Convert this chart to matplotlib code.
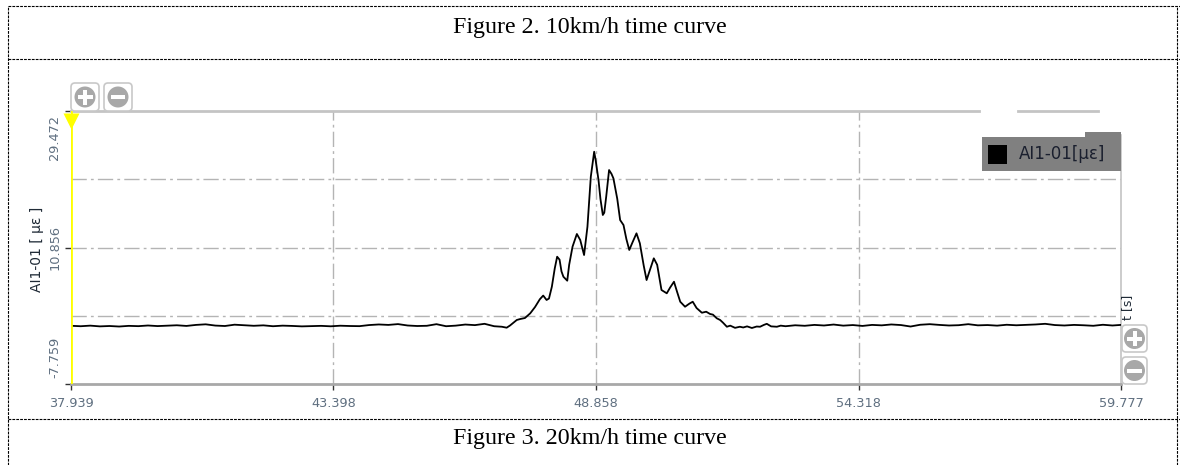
import numpy as np
import matplotlib.pyplot as plt
import matplotlib.transforms as mtransforms
from matplotlib.lines import Line2D
from matplotlib.patches import Rectangle, FancyBboxPatch, Circle

# time [s] and strain [µε]
t_rise = [37.94, 38.14, 38.34, 38.54, 38.74, 38.94, 39.14, 39.34, 39.54, 39.74,
          39.94, 40.14, 40.34, 40.54, 40.74, 40.94, 41.14, 41.34, 41.54, 41.74,
          41.94, 42.14, 42.34, 42.54, 42.74, 42.94, 43.14, 43.34, 43.54, 43.74,
          43.94, 44.14, 44.34, 44.54, 44.74, 44.94, 45.14, 45.34, 45.54, 45.74,
          45.94, 46.14, 46.34, 46.54, 46.74, 46.90, 47.00, 47.07, 47.21, 47.28,
          47.38, 47.49, 47.59, 47.69, 47.76, 47.83, 47.88]
v_rise = [0.18, 0.12, 0.20, 0.10, 0.15, 0.08, 0.17, 0.13, 0.22, 0.14,
          0.19, 0.25, 0.16, 0.30, 0.38, 0.21, 0.15, 0.33, 0.26, 0.18,
          0.24, 0.12, 0.20, 0.16, 0.10, 0.14, 0.17, 0.11, 0.19, 0.15,
          0.13, 0.28, 0.36, 0.30, 0.41, 0.22, 0.15, 0.18, 0.40, 0.12,
          0.20, 0.35, 0.27, 0.45, 0.12, 0.05, -0.08, 0.22, 0.97, 1.10,
          1.24, 1.88, 2.74, 3.80, 4.30, 3.70, 3.90]

t_peak = [47.94, 48.00, 48.05, 48.10, 48.14, 48.18, 48.26, 48.30, 48.37, 48.46,
          48.53, 48.61, 48.65, 48.68, 48.72, 48.75, 48.82, 48.85, 48.91, 48.95,
          49.00, 49.03, 49.07, 49.13, 49.18, 49.22, 49.30, 49.36, 49.43, 49.49,
          49.55, 49.62, 49.70, 49.77, 49.85, 49.91, 49.98, 50.06, 50.13, 50.22,
          50.33, 50.40, 50.48, 50.54, 50.61, 50.71, 50.80, 50.87, 50.95, 51.06,
          51.15, 51.23, 51.29, 51.37, 51.44, 51.50, 51.58]
v_peak = [5.51, 8.00, 9.60, 9.20, 7.60, 6.87, 6.33, 8.50, 10.97, 12.70,
          11.88, 9.83, 12.00, 13.69, 17.50, 20.51, 23.92, 22.80, 20.06, 17.50,
          15.29, 15.60, 17.78, 21.42, 20.90, 20.29, 17.50, 14.60, 13.92, 12.00,
          10.52, 11.60, 12.79, 11.43, 8.40, 6.42, 7.80, 9.38, 8.50, 5.06,
          4.61, 5.40, 6.19, 4.90, 3.46, 2.78, 3.20, 3.46, 2.60, 1.96,
          2.10, 1.79, 1.70, 1.20, 0.97, 0.60, 0.05]

t_tail = [51.65, 51.75, 51.85, 51.92, 52.00, 52.10, 52.20, 52.27, 52.35, 52.41,
          52.50, 52.62, 52.70, 52.80, 53.00, 53.20, 53.40, 53.60, 53.80, 54.00,
          54.20, 54.40, 54.60, 54.80, 55.00, 55.20, 55.40, 55.60, 55.80, 56.00,
          56.20, 56.40, 56.60, 56.80, 57.00, 57.20, 57.40, 57.60, 57.80, 58.00,
          58.20, 58.40, 58.60, 58.80, 59.00, 59.20, 59.40, 59.60, 59.777]
v_tail = [0.20, -0.10, 0.05, -0.05, 0.10, -0.12, 0.08, 0.05, 0.30, 0.45,
          0.10, 0.05, 0.20, 0.12, 0.25, 0.18, 0.30, 0.22, 0.35, 0.20,
          0.28, 0.16, 0.30, 0.24, 0.36, 0.28, 0.08, 0.32, 0.40, 0.30,
          0.22, 0.26, 0.40, 0.24, 0.28, 0.20, 0.32, 0.25, 0.30, 0.36,
          0.45, 0.28, 0.22, 0.30, 0.25, 0.18, 0.32, 0.22, 0.30]

t = np.array(t_rise + t_peak + t_tail)
v = np.array(v_rise + v_peak + v_tail)

x_ticks = [37.939, 43.398, 48.858, 54.318, 59.777]
y_ticks = [-7.759, 10.856, 29.472]
x_min, x_max = 37.939, 59.777
y_min, y_max = -7.759, 29.472

W, H = 1180, 465
fig = plt.figure(figsize=(W / 100, H / 100), dpi=100)
ax = fig.add_axes([71 / W, 1 - 384 / H, 1050 / W, 273 / H])

ax.plot(t, v, color='black', lw=1.3, zorder=3)
ax.set_xlim(x_min, x_max)
ax.set_ylim(y_min, y_max)

# dash-dot grid
grid_style = dict(color='#b4b4b4', lw=1, ls=(0, (11, 3, 2, 3)), zorder=1)
for gx in x_ticks[1:-1]:
    ax.axvline(gx, **grid_style)
for k in (1, 2, 3):
    ax.axhline(y_min + k * (y_max - y_min) / 4, **grid_style)

# yellow cursor
ax.axvline(x_min, color='#ffff00', lw=2, zorder=4)
ax.plot([x_min], [0.965], marker='v', ms=12, mec='none', color='#ffff00',
        transform=ax.get_xaxis_transform(), clip_on=False, zorder=5)

for s in ('top', 'left', 'right'):
    ax.spines[s].set_visible(False)
ax.spines['bottom'].set_color('#a8a8a8')
ax.spines['bottom'].set_linewidth(2)

ax.set_xticks(x_ticks)
ax.set_xticklabels([f'{x:.3f}' for x in x_ticks])
ax.set_yticks(y_ticks)
ax.set_yticklabels([f'{y:.3f}' for y in y_ticks], rotation=90)
ax.tick_params(axis='both', colors='#333333', labelcolor='#5f6f80',
               labelsize=9.3, length=4, width=1)
ax.tick_params(axis='y', pad=3)
ax.tick_params(axis='x', pad=5)
# end labels sit a little inside the axis range
for lbl, va, dy in zip(ax.get_yticklabels(), ['bottom', 'center', 'top'],
                       [6, 0, -4]):
    lbl.set_va(va)
    lbl.set_transform(lbl.get_transform() + mtransforms.ScaledTranslation(
        0, dy / 100, fig.dpi_scale_trans))

fig.text(37 / W, 1 - 249 / H, 'AI1-01 [ µε ]', rotation=90, ha='center',
         va='center', fontsize=10, color='#1f2a36')
fig.text(1128 / W, 1 - 307 / H, 't [s]', rotation=90, ha='center',
         va='center', fontsize=9, color='#1f2a36')

# broken top border and right border
ax.plot([0, 0.8648], [1, 1], color='#c4c4c4', lw=2,
        transform=ax.transAxes, clip_on=False)
ax.plot([0.9019, 0.978], [1, 1], color='#c4c4c4', lw=2,
        transform=ax.transAxes, clip_on=False)
ax.plot([1, 1], [0, 0.912], color='#c4c4c4', lw=1.2,
        transform=ax.transAxes, clip_on=False)

tr = fig.dpi_scale_trans


def px(x, y):
    return x / 100, (H - y) / 100


# legend box
fig.patches.append(Rectangle(px(982, 171), 1.39, 0.34, transform=tr,
                             fc='#808080', ec='none'))
fig.patches.append(Rectangle(px(1085, 171), 0.36, 0.39, transform=tr,
                             fc='#808080', ec='none'))
fig.patches.append(Rectangle(px(988, 164), 0.19, 0.19, transform=tr,
                             fc='black', ec='none'))
fig.text(1019 / W, 1 - 154 / H, 'AI1-01[µε]', ha='left', va='center',
         fontsize=12, color='#1a1f2e')


def button(x0, y0, w, h, plus):
    fig.patches.append(FancyBboxPatch(px(x0, y0 + h), w / 100, h / 100,
                                      boxstyle='round,pad=0,rounding_size=0.04',
                                      transform=tr, fc='white', ec='#c8c8c8',
                                      lw=1.2))
    cx, cy = x0 + w / 2, y0 + h / 2
    fig.patches.append(Circle(px(cx, cy), 0.105, transform=tr,
                              fc='#a8a8a8', ec='none'))
    fig.patches.append(Rectangle(px(cx - 7.5, cy + 2), 0.15, 0.04,
                                 transform=tr, fc='white', ec='none'))
    if plus:
        fig.patches.append(Rectangle(px(cx - 2, cy + 7.5), 0.04, 0.15,
                                     transform=tr, fc='white', ec='none'))


button(71, 83, 28, 28, True)
button(104, 83, 28, 28, False)
button(1122, 325, 25, 27, True)
button(1122, 357, 25, 27, False)

# dashed table borders
dash = dict(color='black', lw=0.8, ls=(0, (2.5, 1)), transform=tr)
for y in (6, 59, 419):
    fig.add_artist(Line2D([0.08, 11.8], [(H - y) / 100] * 2, **dash))
fig.add_artist(Line2D([0.08, 0.08], [0, (H - 6) / 100], **dash))
fig.add_artist(Line2D([11.77, 11.77], [0, (H - 6) / 100], **dash))

fig.text(0.5, 1 - 27 / H, 'Figure 2. 10km/h time curve', ha='center',
         va='center', fontsize=17.3, family='Liberation Serif')
fig.text(0.5, 1 - 438 / H, 'Figure 3. 20km/h time curve', ha='center',
         va='center', fontsize=17.3, family='Liberation Serif')

fig.savefig('out.png', dpi=100)
